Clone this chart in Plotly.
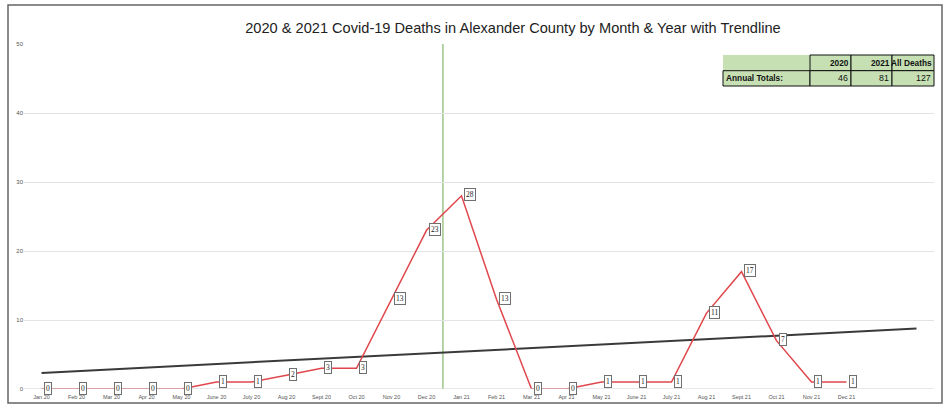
import numpy as np
import plotly.graph_objects as go

months = ["Jan 20", "Feb 20", "Mar 20", "Apr 20", "May 20", "June 20", "July 20", "Aug 20",
          "Sept 20", "Oct 20", "Nov 20", "Dec 20", "Jan 21", "Feb 21", "Mar 21", "Apr 21",
          "May 21", "June 21", "July 21", "Aug 21", "Sept 21", "Oct 21", "Nov 21", "Dec 21"]
deaths_2020 = [0, 0, 0, 0, 0, 1, 1, 2, 3, 3, 13, 23]
deaths_2021 = [28, 13, 0, 0, 1, 1, 1, 11, 17, 7, 1, 1]
trend_forward_periods = 2
y_ticks = [0, 10, 20, 30, 40, 50]
table_headers = ["", "2020", "2021", "All Deaths"]
table_row_label = "Annual Totals:"

deaths = deaths_2020 + deaths_2021
xi = list(range(len(deaths)))
total_2020 = sum(deaths_2020)
total_2021 = sum(deaths_2021)
total_all = total_2020 + total_2021

# linear trendline (least squares) extended forward
slope, intercept = np.polyfit(xi, deaths, 1)
tx = [0, len(deaths) - 1 + trend_forward_periods]
ty = [intercept + slope * t for t in tx]

fig = go.Figure()
fig.add_trace(go.Scatter(x=tx, y=ty, mode="lines",
                         line=dict(color="#3a3a3a", width=2), hoverinfo="skip"))
fig.add_trace(go.Scatter(x=xi, y=deaths, mode="lines",
                         line=dict(color="#e0474c", width=1.5)))

annotations = []
for i, v in zip(xi, deaths):
    annotations.append(dict(x=i, y=v, xref="x", yref="y", text=str(v), showarrow=False,
                            xanchor="left", yanchor="middle", xshift=2, yshift=1,
                            font=dict(family="Liberation Serif, DejaVu Serif", size=7.5, color="#222"),
                            bgcolor="white", bordercolor="#6f6f6f", borderwidth=1, borderpad=1))

# pixel -> paper helpers (plot area 24..934 x, 44..389 y)
def px(x):
    return (x - 24) / 910.0

def py(y):
    return (389 - y) / 345.0

shapes = []
shapes.append(dict(type="line", xref="paper", yref="y", x0=0, x1=1, y0=0, y1=0,
                   line=dict(color="#d0d0d0", width=1.2), layer="above"))
shapes.append(dict(type="line", xref="x", yref="y", x0=11.47, x1=11.47, y0=0, y1=50.3,
                   line=dict(color="#6aa84f", width=1), layer="below"))
shapes.append(dict(type="rect", xref="paper", yref="paper", x0=px(8), x1=px(942),
                   y0=py(403), y1=py(5), line=dict(color="#666666", width=1.5)))

# table
cols = [723, 810, 851, 892, 934]
rows = [55, 70.7, 86]
green = "#c6e0b4"
shapes.append(dict(type="rect", xref="paper", yref="paper", x0=px(cols[0]), x1=px(cols[1]),
                   y0=py(rows[1]), y1=py(rows[0]), fillcolor=green, line=dict(width=0), layer="above"))
for c in range(1, 4):
    shapes.append(dict(type="rect", xref="paper", yref="paper", x0=px(cols[c]), x1=px(cols[c + 1]),
                       y0=py(rows[1]), y1=py(rows[0]), fillcolor=green,
                       line=dict(color="#111", width=1), layer="above"))
for c in range(0, 4):
    shapes.append(dict(type="rect", xref="paper", yref="paper", x0=px(cols[c]), x1=px(cols[c + 1]),
                       y0=py(rows[2]), y1=py(rows[1]), fillcolor=green,
                       line=dict(color="#111", width=1), layer="above"))

tfont = "Liberation Sans, Arial"
tsize = 8.3
for c in range(1, 4):
    annotations.append(dict(x=px(cols[c + 1]), y=py((rows[0] + rows[1]) / 2), xref="paper", yref="paper",
                            text="<b>%s</b>" % table_headers[c], showarrow=False,
                            xanchor="right", yanchor="middle", xshift=0,
                            font=dict(family=tfont, size=tsize, color="#111")))
annotations.append(dict(x=px(cols[0]), y=py((rows[1] + rows[2]) / 2), xref="paper", yref="paper",
                        text="<b>%s</b>" % table_row_label, showarrow=False,
                        xanchor="left", yanchor="middle", xshift=1,
                        font=dict(family=tfont, size=tsize, color="#111")))
for c, val in zip(range(1, 4), [total_2020, total_2021, total_all]):
    annotations.append(dict(x=px(cols[c + 1]), y=py((rows[1] + rows[2]) / 2), xref="paper", yref="paper",
                            text=str(val), showarrow=False,
                            xanchor="right", yanchor="middle", xshift=-1,
                            font=dict(family=tfont, size=tsize + 0.5, color="#111")))

fig.update_layout(
    width=943, height=404,
    margin=dict(l=24, r=9, t=44, b=15, autoexpand=False),
    paper_bgcolor="white", plot_bgcolor="white",
    showlegend=False,
    title=dict(text="2020 & 2021 Covid-19 Deaths in Alexander County by Month & Year with Trendline",
               x=0.544, xref="container", xanchor="center", y=0.93, yref="container", yanchor="middle",
               font=dict(family=tfont, size=14.6, color="#222")),
    xaxis=dict(range=[-0.5, 25.5], tickmode="array", tickvals=xi, ticktext=months,
               showgrid=False, zeroline=False, showline=False, ticks="", ticklabelstandoff=3,
               automargin=False,
               tickfont=dict(family="Liberation Sans, Arial", size=5.5, color="#555")),
    yaxis=dict(range=[0, 50], tickmode="array", tickvals=y_ticks, showgrid=True,
               gridcolor="#e3e3e3", gridwidth=1, zeroline=False, showline=False, ticks="",
               automargin=False,
               tickfont=dict(family="Liberation Sans, Arial", size=6, color="#555")),
    shapes=shapes,
    annotations=annotations,
)

fig.write_html("out.html")
